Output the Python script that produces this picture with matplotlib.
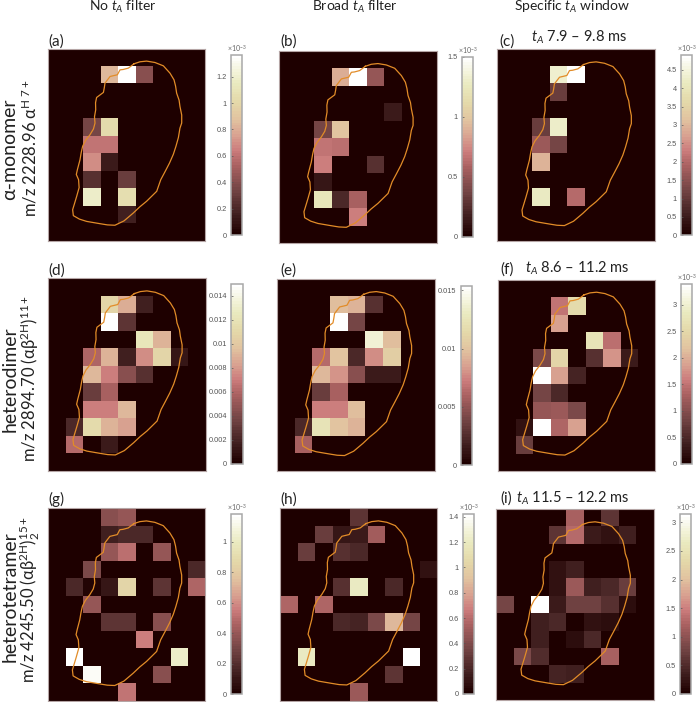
import matplotlib
matplotlib.use("Agg")
import numpy as np
import matplotlib.pyplot as plt
from matplotlib.colors import LinearSegmentedColormap

# ---------- data: (row, col, intensity as fraction of the colour-bar top) ----------
A = [(1,3,.62),(1,4,1),(1,5,.30),(4,2,.25),(4,3,.76),(5,2,.44),(5,3,.44),(6,2,.50),(6,3,.10),
     (7,2,.18),(7,4,.22),(8,2,.87),(8,4,.78),(9,4,.12)]
B = [(1,3,.58),(1,4,1),(1,5,.33),(3,6,.10),(4,2,.25),(4,3,.65),(5,2,.45),(5,3,.43),(6,2,.47),
     (6,5,.18),(7,2,.09),(8,2,.82),(8,3,.15),(8,4,.38),(9,4,.47)]
C = [(1,3,.88),(1,4,1),(2,3,.22),(4,2,.22),(4,3,.87),(5,2,.35),(5,3,.25),(6,2,.60),(8,2,.85),(8,4,.42)]
D = [(1,3,.72),(1,4,.58),(1,5,.12),(2,3,1),(2,4,.20),(3,5,.82),(3,6,.60),(4,2,.40),(4,3,.60),
     (4,4,.12),(4,5,.50),(4,6,.72),(4,7,.08),(5,2,.62),(5,3,.48),(5,4,.30),(5,5,.18),(6,2,.22),
     (6,3,.38),(7,2,.47),(7,3,.47),(7,4,.62),(8,1,.15),(8,2,.75),(8,3,.60),(8,4,.55),(9,1,.42),(9,3,.10)]
E = [(1,3,.63),(1,4,.60),(1,5,.18),(2,3,1),(2,4,.25),(3,5,.90),(3,6,.63),(4,2,.42),(4,3,.65),
     (4,4,.15),(4,5,.50),(4,6,.70),(5,2,.62),(5,3,.52),(5,4,.30),(5,5,.10),(5,6,.10),(6,2,.22),
     (6,3,.38),(7,2,.48),(7,3,.47),(7,4,.63),(8,1,.15),(8,2,.80),(8,3,.65),(8,4,.60),(9,1,.38)]
F = [(1,3,.45),(1,4,.75),(2,3,.55),(3,5,.80),(3,6,.43),(4,2,.27),(4,3,.72),(4,5,.18),(4,6,.52),
     (4,7,.10),(5,2,1),(5,3,.55),(5,4,.13),(6,2,.25),(6,3,.15),(7,2,.33),(7,3,.35),(7,4,.27),
     (8,1,.07),(8,2,1),(8,3,.40),(8,4,.55),(9,1,.22)]
G = [(0,3,.30),(0,4,.33),(1,3,.12),(1,4,.15),(1,5,.15),(2,3,.33),(2,4,.43),(2,6,.33),(3,2,.27),
     (3,8,.15),(4,1,.15),(4,2,.02),(4,3,.08),(4,4,.72),(4,6,.20),(4,8,.40),(5,2,.33),(6,3,.20),
     (6,4,.20),(6,6,.30),(7,5,.48),(8,1,1),(8,7,.87),(9,2,.98),(9,6,.30),(10,4,.45)]
H = [(0,4,.20),(1,2,.22),(1,3,.08),(1,4,.10),(1,5,.37),(2,1,.22),(2,3,.18),(2,4,.15),(3,8,.07),
     (4,3,.18),(4,4,.85),(4,6,.15),(5,0,.40),(5,2,.40),(6,3,.15),(6,4,.13),(6,5,.28),(6,6,.62),
     (6,7,.25),(8,1,.85),(8,7,1),(9,6,.20),(10,4,.35)]
I = [(0,4,.38),(0,6,.20),(1,3,.20),(1,4,.42),(1,5,.10),(1,6,.07),(1,7,.12),(3,3,.07),(3,4,.12),
     (4,3,.07),(4,4,.35),(4,5,.12),(4,6,.15),(4,7,.22),(5,0,.25),(5,2,1),(5,3,.10),(5,4,.24),
     (5,5,.24),(5,6,.18),(5,7,.06),(6,2,.12),(6,3,.15),(6,4,.01),(6,5,.07),(6,6,.06),(7,2,.12),
     (7,4,.06),(7,5,.15),(8,1,.28),(8,2,.17),(8,6,.38),(9,3,.14),(9,4,.12)]
PANELS = [A, B, C, D, E, F, G, H, I]
LETTERS = ["(a)", "(b)", "(c)", "(d)", "(e)", "(f)", "(g)", "(h)", "(i)"]
VMAX = [1.364, 1.5, 4.9, 0.01495, 0.0154, 3.38, 1.18, 1.42, 3.14]
TICKS = [[0,.2,.4,.6,.8,1,1.2],[0,.5,1,1.5],[0,.5,1,1.5,2,2.5,3,3.5,4,4.5],
         [0,.002,.004,.006,.008,.01,.012,.014],[0,.005,.01,.015],[0,.5,1,1.5,2,2.5,3],
         [0,.2,.4,.6,.8,1],[0,.2,.4,.6,.8,1,1.2,1.4],[0,.5,1,1.5,2,2.5,3]]
TICKLABELS = [["0","0.2","0.4","0.6","0.8","1","1.2"],["0","0.5","1","1.5"],
              ["0","0.5","1","1.5","2","2.5","3","3.5","4","4.5"],
              ["0","0.002","0.004","0.006","0.008","0.01","0.012","0.014"],
              ["0","0.005","0.01","0.015"],["0","0.5","1","1.5","2","2.5","3"],
              ["0","0.2","0.4","0.6","0.8","1"],["0","0.2","0.4","0.6","0.8","1","1.2","1.4"],
              ["0","0.5","1","1.5","2","2.5","3"]]
HAS_EXP = [True, True, True, False, False, True, True, True, True]
COLUMN_TITLES = [r"No $t_A$ filter", r"Broad $t_A$ filter", r"Specific $t_A$ window"]
WINDOWS = {2: r"$t_A$ 7.9 – 9.8 ms", 5: r"$t_A$ 8.6 – 11.2 ms", 8: r"$t_A$ 11.5 – 12.2 ms"}
ROW_LINE1 = ["α-monomer", "heterodimer", "heterotetramer"]
ROW_LINE2 = ["m/z 2228.96 α$^{\\mathrm{H\\ 7+}}$",
             "m/z 2894.70 (αβ$^{\\mathrm{2H}}$)$^{\\mathrm{11+}}$",
             "m/z 4245.50 (αβ$^{\\mathrm{2H}}$)$_{2}^{\\mathrm{15+}}$"]
# tissue outline, in grid-cell units (x = columns, y = rows from the top)
OUTLINE_X = [4.92,5.26,5.64,6.12,6.60,6.98,7.21,7.30,7.36,7.50,7.55,7.65,7.65,7.55,7.46,7.32,7.17,
             6.95,6.69,6.45,6.22,5.64,5.25,4.88,4.35,3.83,3.40,2.97,2.21,1.80,1.45,1.41,1.52,1.64,
             1.78,1.75,1.62,1.68,1.83,1.90,1.98,2.15,2.40,2.60,2.69,2.66,2.73,2.72,2.78,3.17,
             3.22,3.26,3.55,3.97,4.12,4.30,4.60,4.92]
OUTLINE_Y = [0.875,.76,.72,.80,.99,1.41,1.79,2.15,2.55,2.95,3.31,3.80,4.26,4.55,5.09,5.59,6.05,
             6.55,7.05,7.50,8.16,8.73,9.05,9.40,9.85,10.10,10.08,10.01,9.88,9.75,9.55,9.21,
             8.85,8.45,7.95,7.50,7.20,6.93,6.36,5.95,5.59,5.25,4.93,4.60,4.26,3.90,3.50,3.10,2.80,
             2.51,2.25,1.98,1.60,1.50,1.22,1.20,1.12,0.875]

# ---------- layout, in reference pixels ----------
W, H_PX = 699, 702
IMG_BOXES = [(48,48.5,205.3,241),(279.3,51,436.7,243),(497.3,49.3,655,241.3),
             (48.3,278.3,205.7,470.7),(277.3,279,435.3,471.3),(498,279.7,655.3,470.7),
             (47.7,508.3,205.3,701.3),(279.7,508.3,437.3,700.7),(496.3,509.3,654,700.3)]
CB_BOXES = [(230.7,55,242,235),(461.7,56.7,473,236.7),(680.7,55,692,235.3),
            (231.3,284.3,242.7,464),(460.7,285.7,472,465),(681,284.3,692.3,464),
            (230.7,514.3,241.7,694.3),(462.7,514.3,474,694),(680,514.3,691.3,694)]
LETTER_POS = [(48,46),(280,46),(499,46),(48,275),(280,275),(500,274),(48,504),(280,504),(500,503)]
WINDOW_POS = {2: (579,42), 5: (577,273), 8: (573,503)}
TITLE_X = [123, 355, 572]
ROW_Y1 = [149, 379, 597]
ROW_Y2 = [148, 379, 600]

plt.rcParams["font.family"] = ["Lato", "DejaVu Sans"]
plt.rcParams["mathtext.fontset"] = "custom"
plt.rcParams["mathtext.rm"] = "Lato"
plt.rcParams["mathtext.it"] = "Lato:italic"
plt.rcParams["mathtext.bf"] = "Lato:bold"

CMAP = LinearSegmentedColormap.from_list("pinkish", [
    (0.00, "#1e0000"), (0.12, "#432222"), (0.25, "#744545"), (0.38, "#a86060"),
    (0.47, "#cc7c7c"), (0.55, "#d8a090"), (0.65, "#e2c4a0"), (0.75, "#e4daaa"),
    (0.85, "#eaeac0"), (0.93, "#f5f5e0"), (1.00, "#ffffff")], N=64)

fig = plt.figure(figsize=(W/100, H_PX/100), dpi=100)

def box_axes(b):
    x0, y0, x1, y1 = b
    return fig.add_axes([x0/W, 1-y1/H_PX, (x1-x0)/W, (y1-y0)/H_PX])

for k, cells in enumerate(PANELS):
    ax = box_axes(IMG_BOXES[k])
    grid = np.zeros((11, 9))
    for r, c, f in cells:
        grid[r, c] = f*VMAX[k]
    im = ax.imshow(grid, cmap=CMAP, vmin=0, vmax=VMAX[k], aspect="auto",
                   extent=(0, 9, 11, 0), interpolation="nearest")
    ax.plot(OUTLINE_X, OUTLINE_Y, color="#e28c28", lw=0.9, solid_joinstyle="round")
    ax.set_xlim(0, 9); ax.set_ylim(11, 0)
    ax.set_xticks([]); ax.set_yticks([])
    for s in ax.spines.values():
        s.set_color("#b5a5a5"); s.set_linewidth(0.8)
    lx, ly = LETTER_POS[k]
    fig.text(lx/W, 1-ly/H_PX, LETTERS[k], ha="left", va="baseline", fontsize=11, color="#222222")
    if k in WINDOWS:
        wx, wy = WINDOW_POS[k]
        fig.text(wx/W, 1-wy/H_PX, WINDOWS[k], ha="center", va="baseline", fontsize=10.5, color="#222222")

    cax = box_axes(CB_BOXES[k])
    cb = fig.colorbar(im, cax=cax)
    cb.set_ticks(TICKS[k]); cb.set_ticklabels(TICKLABELS[k])
    cax.yaxis.set_ticks_position("left")
    cax.tick_params(axis="y", length=1.5, width=0.5, direction="in", labelsize=5.3,
                    labelcolor="#555555", color="#555555", pad=3)
    for lab in cax.get_yticklabels():
        lab.set_family("Liberation Sans")
    cb.outline.set_edgecolor("#a8a8a8"); cb.outline.set_linewidth(1.1)
    if HAS_EXP[k]:
        cax.text(0.55, 1.005, r"$\times$10$^{-3}$", transform=cax.transAxes, ha="center", va="bottom",
                 fontsize=5, color="#666666")

for x, t in zip(TITLE_X, COLUMN_TITLES):
    fig.text(x/W, 1-11/H_PX, t, ha="center", va="baseline", fontsize=10, color="#222222")
for y1, y2, t1, t2 in zip(ROW_Y1, ROW_Y2, ROW_LINE1, ROW_LINE2):
    fig.text(10/W, 1-y1/H_PX, t1, ha="center", va="center", rotation=90, fontsize=14, color="#222222")
    fig.text(30/W, 1-y2/H_PX, t2, ha="center", va="center", rotation=90, fontsize=12, color="#222222")

fig.savefig("out.png", dpi=100)
